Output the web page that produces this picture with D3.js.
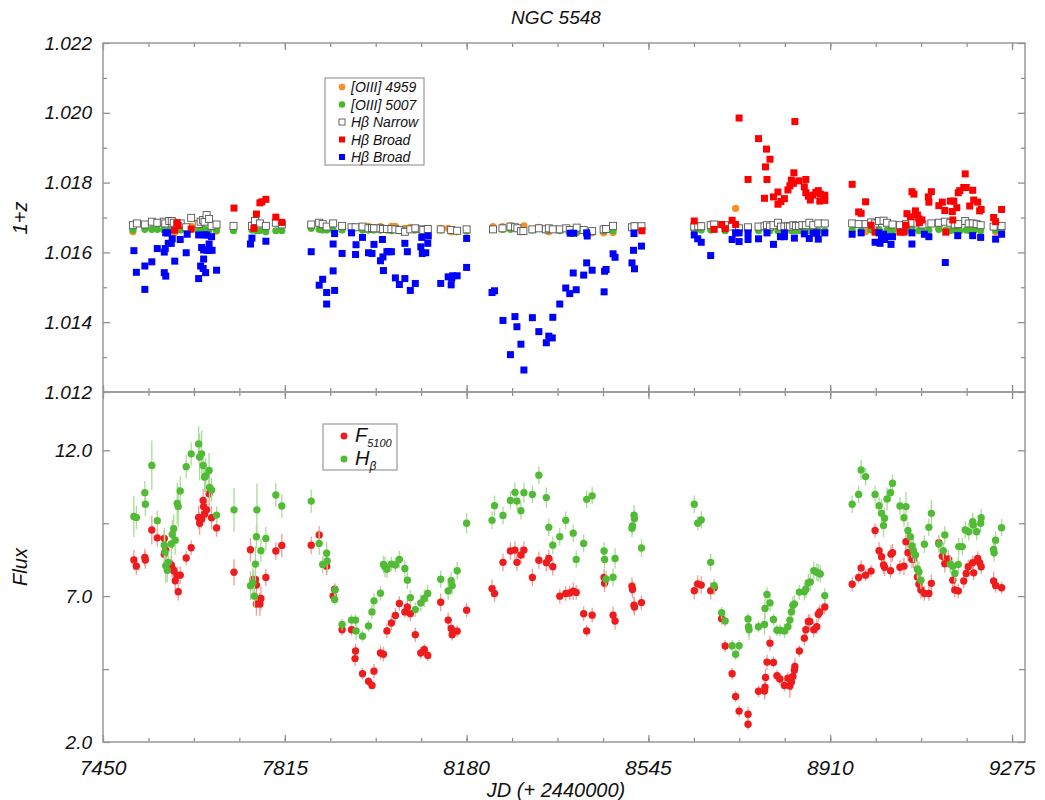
<!DOCTYPE html>
<html lang="en">
<head>
<meta charset="UTF-8">
<title>NGC 5548</title>
<script src="https://d3js.org/d3.v7.min.js"></script>
<style>
    body { margin: 0; background: #fff; }
    text { font-family: "Liberation Sans", Arial, sans-serif; font-style: italic; fill: #111; }
    .tick line { stroke: #888; }
</style>
</head>
<body>
<script>
// ---- data: [JD - 2440000, 1+z] ----
var oiii4959 = [[7510,1.01659],[7594,1.01657],[7627,1.01675],[7678,1.01661],[7749,1.0168],
    [7983,1.01675],[8007,1.01674],[8029,1.01675],[8037,1.01675],[8056,1.01669],[8067,1.01672],
    [8128,1.01669],[8143,1.01669],[8149,1.01659],[8160,1.01659],
    [8233,1.01674],[8252,1.01674],[8268,1.01676],[8295,1.01676],[8325,1.01672],[8345,1.01659],
    [8387,1.01656],[8401,1.01656],[8432,1.01656],[8455,1.01656],[8474,1.01657],[8516,1.01677],
    [8531,1.01662],[8637,1.01669],[8670,1.01681],[8720,1.01726],[8783,1.01678],[8818,1.01659],
    [8861,1.01659],[8899,1.01659],[8981,1.01659],[9128,1.01669],[9242,1.01659],[9254,1.01664]];

var oiii5007 = [[7510,1.01664],[7534,1.01666],[7548,1.01666],[7559,1.01666],[7572,1.01664],
    [7583,1.01664],[7591,1.01662],[7599,1.01666],[7606,1.01664],[7617,1.01667],[7627,1.01666],
    [7642,1.01664],[7648,1.01666],[7654,1.01666],[7663,1.01664],[7678,1.01664],[7712,1.01662],
    [7749,1.01664],[7758,1.01662],[7765,1.01662],[7777,1.01659],[7797,1.01662],[7809,1.01662],
    [7868,1.01669],[7884,1.01666],[7891,1.01664],[7899,1.01664],[7912,1.01664],[7930,1.01664],
    [7949,1.01664],[7971,1.01664],[7983,1.01664],[7994,1.01664],[8007,1.01664],[8020,1.01664],
    [8029,1.01662],[8045,1.01662],[8056,1.01662],[8077,1.01664],[8093,1.01662],[8102,1.01664],
    [8128,1.01664],[8149,1.01664],[8161,1.01662],[8180,1.01661],
    [8233,1.01666],[8252,1.01666],[8268,1.01666],[8289,1.01661],[8312,1.01664],[8339,1.01664],
    [8367,1.01662],[8387,1.01664],[8401,1.01659],[8432,1.01659],[8455,1.01662],[8474,1.01662],
    [8516,1.01666],[8531,1.01664],
    [8637,1.01664],[8651,1.01664],[8670,1.01664],[8699,1.01662],[8720,1.01664],[8745,1.01662],
    [8766,1.01662],[8783,1.01664],[8789,1.01662],[8805,1.01662],[8818,1.01662],[8832,1.01662],
    [8841,1.01662],[8847,1.01662],[8854,1.01662],[8861,1.01662],[8868,1.01662],[8876,1.01662],
    [8886,1.01662],[8899,1.01662],
    [8954,1.01664],[8972,1.01662],[8992,1.01664],[9008,1.01666],[9024,1.01664],[9035,1.01662],
    [9050,1.01662],[9062,1.01662],[9074,1.01666],[9088,1.01662],[9095,1.01662],[9108,1.01664],
    [9128,1.01666],[9142,1.01664],[9151,1.01662],[9160,1.01664],[9170,1.01662],[9183,1.01664],
    [9190,1.01662],[9199,1.01664],[9212,1.01662],[9242,1.01664],[9254,1.01664]];

var hbNarrow = [[7510,1.01678],[7518,1.01683],[7534,1.0168],[7548,1.01688],[7559,1.01685],
    [7572,1.01688],[7575,1.01683],[7583,1.0169],[7588,1.0169],[7592,1.01685],[7599,1.0168],
    [7606,1.01683],[7617,1.01672],[7627,1.01699],[7642,1.01681],[7646,1.01688],[7651,1.01693],
    [7654,1.01688],[7658,1.01707],[7663,1.01696],[7668,1.01676],[7678,1.0168],[7712,1.01676],
    [7749,1.01676],[7755,1.0169],[7765,1.01683],[7777,1.01676],[7797,1.01685],[7809,1.0168],
    [7868,1.0168],[7884,1.01685],[7891,1.01681],[7899,1.01674],[7912,1.01683],[7930,1.01676],
    [7949,1.01672],[7957,1.01672],[7971,1.01674],[7983,1.01669],[7990,1.0167],[7994,1.01669],
    [8007,1.01669],[8012,1.01667],[8020,1.01667],[8029,1.01667],[8037,1.01666],[8045,1.01664],
    [8056,1.01659],[8067,1.01666],[8077,1.01669],[8090,1.01666],[8093,1.01664],[8102,1.01667],
    [8128,1.01666],[8149,1.01664],[8161,1.01662],[8180,1.01666],
    [8233,1.01666],[8252,1.01669],[8268,1.01674],[8277,1.01672],[8282,1.01669],[8289,1.01661],
    [8294,1.01661],[8312,1.01666],[8325,1.01669],[8339,1.01666],[8345,1.01669],[8353,1.01666],
    [8367,1.01666],[8380,1.01669],[8387,1.01664],[8401,1.01671],[8415,1.01664],[8432,1.01661],
    [8455,1.01666],[8460,1.01667],[8474,1.01676],[8512,1.01672],[8517,1.01675],[8531,1.01675],
    [8637,1.01674],[8645,1.01675],[8651,1.01675],[8670,1.01678],[8677,1.0168],[8699,1.01678],
    [8713,1.01674],[8727,1.01669],[8745,1.01672],[8766,1.01674],[8778,1.01675],[8783,1.01678],
    [8789,1.01674],[8796,1.01678],[8805,1.01685],[8811,1.01674],[8818,1.01674],[8825,1.01675],
    [8829,1.01674],[8836,1.01678],[8841,1.01676],[8847,1.01676],[8854,1.01678],[8861,1.01678],
    [8868,1.01685],[8876,1.01678],[8886,1.01683],[8899,1.01683],
    [8954,1.01683],[8967,1.01681],[8981,1.01681],[8992,1.01686],[9000,1.01683],[9008,1.0169],
    [9017,1.01691],[9024,1.01685],[9035,1.0168],[9050,1.01678],[9062,1.01681],[9074,1.01685],
    [9085,1.01683],[9095,1.0168],[9113,1.01683],[9128,1.01685],[9140,1.01688],[9151,1.01685],
    [9160,1.0168],[9167,1.01681],[9181,1.0169],[9188,1.01683],[9196,1.01683],[9204,1.01681],
    [9212,1.01678],[9238,1.01674],[9254,1.01676]];

var hbBroadRed = [[7594,1.01664],[7599,1.01685],[7601,1.01677],[7627,1.01667],[7713,1.01727],
    [7753,1.01669],[7758,1.0171],[7765,1.01742],[7769,1.01745],[7777,1.01752],[7797,1.01701],
    [7809,1.01686],
    [8532,1.01662],[8637,1.0169],[8677,1.01666],[8692,1.0168],[8699,1.01668],[8713,1.01692],
    [8720,1.0168],[8727,1.01985],[8745,1.01809],[8766,1.01926],[8780,1.01845],[8782,1.01896],
    [8783,1.01809],[8789,1.01867],[8778,1.01755],[8796,1.01759],[8805,1.01773],[8805,1.01738],
    [8811,1.01746],[8818,1.01754],[8825,1.01779],[8829,1.01791],[8832,1.01807],[8837,1.01828],
    [8839,1.01975],[8836,1.01798],[8847,1.01805],[8861,1.01809],[8858,1.01788],[8861,1.01771],
    [8866,1.01761],[8870,1.0175],[8875,1.01764],[8881,1.01772],[8886,1.01777],[8890,1.01767],
    [8889,1.01747],[8899,1.01764],[8899,1.01749],
    [8954,1.01795],[8967,1.01716],[8972,1.01712],[8981,1.01745],[8992,1.01678],[9000,1.01658],
    [9050,1.01658],[9058,1.01658],[9062,1.01678],[9064,1.01711],[9071,1.01702],[9074,1.01774],
    [9078,1.01767],[9081,1.01719],[9085,1.01707],[9088,1.01696],[9089,1.01685],[9094,1.01693],
    [9107,1.01759],[9108,1.01744],[9113,1.01774],[9128,1.01734],[9135,1.01744],[9140,1.0172],
    [9142,1.01658],[9151,1.01747],[9155,1.01717],[9158,1.01747],[9156,1.01693],[9164,1.01728],
    [9167,1.01771],[9170,1.01777],[9178,1.01786],[9183,1.01786],[9181,1.01825],[9190,1.01733],
    [9196,1.01778],[9198,1.0175],[9206,1.01744],[9210,1.01719],[9213,1.01723],[9238,1.017],
    [9242,1.01688],[9254,1.01723]];

var hbBroadBlue = [[7512,1.01605],[7517,1.01543],[7534,1.01494],[7534,1.01561],[7548,1.01573],
    [7559,1.01611],[7573,1.01542],[7576,1.01532],[7573,1.01601],[7575,1.01611],[7580,1.01656],
    [7576,1.01656],[7581,1.01626],[7587,1.01626],[7589,1.01639],[7594,1.01575],[7605,1.01637],
    [7617,1.01599],[7619,1.01652],[7642,1.01525],[7642,1.0165],[7648,1.01614],[7646,1.01561],
    [7651,1.01554],[7652,1.01581],[7652,1.01607],[7654,1.0165],[7656,1.01542],[7658,1.0165],
    [7659,1.01606],[7663,1.01624],[7664,1.01606],[7668,1.01645],[7669,1.01606],[7678,1.01549],
    [7746,1.01624],[7749,1.01641],[7777,1.01632],
    [7868,1.01602],[7884,1.01506],[7891,1.01523],[7899,1.01485],[7899,1.01452],[7912,1.01547],
    [7915,1.01491],[7912,1.01624],[7915,1.01654],[7930,1.01597],[7949,1.01656],[7957,1.01594],
    [7958,1.01622],[7971,1.01643],[7983,1.01599],[7990,1.01597],[7994,1.01623],[8007,1.01576],
    [8011,1.01637],[8012,1.01587],[8013,1.01548],[8020,1.01602],[8024,1.01602],[8029,1.01602],
    [8037,1.01527],[8045,1.01508],[8056,1.01525],[8056,1.01626],[8061,1.01602],[8067,1.01491],
    [8077,1.01511],[8090,1.01643],[8088,1.01616],[8091,1.01597],[8098,1.01599],[8102,1.01626],
    [8103,1.01647],[8128,1.01511],[8143,1.0153],[8149,1.01507],[8150,1.01526],[8152,1.01533],
    [8161,1.01533],[8180,1.01557],[8180,1.0164],
    [8231,1.01485],[8236,1.0149],[8253,1.01405],[8268,1.01307],[8277,1.01416],[8281,1.01387],
    [8289,1.01337],[8295,1.01263],[8312,1.01413],[8325,1.01373],[8340,1.01341],[8345,1.0136],
    [8352,1.01355],[8353,1.01414],[8367,1.01452],[8379,1.01498],[8387,1.01482],[8394,1.01541],
    [8400,1.01493],[8388,1.01655],[8395,1.01655],[8415,1.01535],[8421,1.0157],[8421,1.01656],
    [8422,1.01647],[8432,1.01549],[8456,1.01487],[8457,1.01546],[8460,1.01551],[8474,1.01596],
    [8478,1.01586],[8512,1.0157],[8515,1.01606],[8517,1.01553],[8516,1.01654],[8531,1.01618],
    [8637,1.0165],[8644,1.01639],[8651,1.01629],[8670,1.01591],[8720,1.01656],[8713,1.01637],
    [8727,1.01631],[8727,1.01656],[8745,1.01656],[8745,1.01637],[8766,1.01639],[8783,1.01656],
    [8796,1.01623],[8810,1.01645],[8818,1.01645],[8818,1.01656],[8838,1.01641],[8858,1.01653],
    [8868,1.0164],[8876,1.01655],[8886,1.01638],[8883,1.01656],[8899,1.01656],
    [8954,1.01652],[8972,1.01656],[9000,1.01629],[9008,1.01656],[9010,1.01626],[9013,1.01645],
    [9017,1.01652],[9019,1.01637],[9024,1.01645],[9032,1.01623],[9035,1.01645],[9074,1.01624],
    [9074,1.01656],[9099,1.01652],[9108,1.01645],[9141,1.01571],[9166,1.01648],[9196,1.01648],
    [9212,1.01643],[9242,1.01638],[9254,1.01652]];

// ---- data: [JD - 2440000, flux, error] ----
var f5100 = [[7512,8.24,0.35],[7517,8.03,0.3],[7534,8.33,0.3],[7535,8.24,0.3],[7548,9.27,0.5],
    [7559,9.0,0.3],[7573,8.98,0.3],[7573,8.44,0.35],[7576,8.58,0.3],[7587,8.07,0.3],[7589,7.95,0.3],
    [7592,7.87,0.3],[7595,7.53,0.3],[7599,7.72,0.3],[7601,7.15,0.3],[7605,7.72,0.3],[7617,8.31,0.25],
    [7627,8.66,0.25],[7642,9.7,0.4],[7644,9.5,0.4],[7648,9.65,0.3],[7651,10.28,0.4],[7652,10.07,0.3],
    [7654,9.82,0.3],[7658,9.96,0.3],[7663,10.51,0.5],[7668,9.69,0.4],[7678,9.34,0.3],[7713,7.82,0.45],
    [7746,8.59,0.4],[7751,7.57,0.3],[7756,7.57,0.3],[7758,7.38,0.3],[7758,6.73,0.4],[7765,6.73,0.4],
    [7767,6.92,0.4],[7777,7.64,0.3],[7797,8.55,0.3],[7809,8.74,0.4],[7868,8.75,0.3],[7884,9.1,0.3],
    [7899,8.03,0.3],[7912,7.01,0.2],[7915,7.24,0.2],[7930,5.85,0.2],[7949,5.85,0.2],[7957,5.12,0.25],
    [7956,4.86,0.25],[7971,4.34,0.2],[7983,4.08,0.15],[7990,3.94,0.15],[7994,4.43,0.25],[8007,5.05,0.25],
    [8013,5.01,0.25],[8020,5.81,0.25],[8029,6.08,0.25],[8037,6.34,0.25],[8045,6.75,0.25],[8056,6.46,0.2],
    [8061,6.63,0.25],[8067,6.4,0.25],[8077,5.68,0.25],[8088,5.05,0.2],[8095,5.17,0.2],[8102,4.97,0.2],
    [8128,6.79,0.3],[8143,6.18,0.25],[8149,5.89,0.2],[8151,5.68,0.2],[8161,5.8,0.2],[8180,6.52,0.25],
    [8231,7.26,0.3],[8236,7.09,0.3],[8253,8.16,0.3],[8268,8.55,0.3],[8277,8.58,0.3],[8281,8.16,0.3],
    [8289,8.41,0.3],[8295,8.58,0.3],[8312,7.64,0.3],[8325,8.23,0.3],[8340,8.15,0.3],[8345,8.29,0.3],
    [8353,8.01,0.3],[8367,7.0,0.25],[8379,7.09,0.25],[8387,7.11,0.25],[8394,7.17,0.3],[8400,7.13,0.25],
    [8415,6.4,0.25],[8421,5.81,0.2],[8432,6.35,0.25],[8456,7.64,0.3],[8457,7.44,0.3],[8474,6.35,0.3],
    [8478,6.15,0.3],[8512,7.34,0.3],[8513,7.23,0.3],[8516,6.69,0.3],[8517,6.63,0.3],[8531,6.78,0.25],
    [8637,7.19,0.3],[8644,7.42,0.3],[8651,7.38,0.3],[8670,7.19,0.3],[8677,7.29,0.25],[8692,6.23,0.2],
    [8699,5.29,0.2],[8713,4.34,0.2],[8720,3.56,0.2],[8727,3.06,0.2],[8745,2.95,0.25],[8745,2.61,0.2],
    [8766,3.74,0.2],[8778,3.75,0.3],[8779,3.88,0.35],[8780,4.21,0.3],[8783,4.74,0.25],[8789,5.39,0.25],
    [8796,4.73,0.2],[8803,4.27,0.2],[8809,4.16,0.2],[8818,3.94,0.2],[8825,4.19,0.2],[8829,3.92,0.4],
    [8832,4.06,0.3],[8835,4.25,0.3],[8838,4.46,0.3],[8839,4.59,0.3],[8848,5.12,0.2],[8858,5.56,0.25],
    [8861,5.85,0.25],[8866,6.13,0.25],[8869,6.13,0.25],[8877,5.85,0.25],[8883,5.95,0.25],[8886,6.38,0.25],
    [8889,6.46,0.25],[8899,6.63,0.25],
    [8954,7.41,0.25],[8967,7.64,0.2],[8972,7.97,0.25],[8981,7.72,0.2],[8992,7.86,0.2],[9000,9.25,0.25],
    [9008,8.56,0.3],[9013,8.35,0.3],[9017,8.07,0.3],[9019,7.99,0.3],[9031,7.87,0.25],[9032,8.44,0.3],
    [9035,8.49,0.3],[9050,7.99,0.25],[9058,8.03,0.3],[9062,8.87,0.3],[9066,8.49,0.3],[9074,8.27,0.3],
    [9077,8.26,0.3],[9085,7.66,0.3],[9088,7.41,0.3],[9092,7.21,0.3],[9099,7.09,0.25],[9108,7.09,0.25],
    [9113,7.44,0.3],[9128,8.83,0.25],[9135,8.37,0.3],[9140,8.11,0.3],[9147,8.28,0.3],[9156,7.55,0.25],
    [9160,7.21,0.25],[9167,7.18,0.25],[9178,7.52,0.25],[9183,7.78,0.25],[9187,8.01,0.25],[9196,8.15,0.25],
    [9198,7.8,0.25],[9206,8.29,0.25],[9210,8.15,0.25],[9213,8.01,0.25],[9238,7.52,0.3],[9242,7.37,0.25],
    [9254,7.29,0.2]];

var hbFlux = [[7512,9.73,0.7],[7517,9.7,0.4],[7534,10.55,0.4],[7535,10.15,0.4],[7548,11.48,0.85],
    [7559,9.59,0.35],[7573,8.75,0.6],[7574,8.52,0.6],[7576,8.04,0.6],[7579,7.89,0.4],[7581,8.16,0.4],
    [7587,8.79,0.5],[7589,9.12,0.5],[7592,9.31,0.5],[7595,8.92,0.5],[7599,10.18,0.7],[7601,10.07,0.7],
    [7605,10.61,0.5],[7617,11.44,0.4],[7627,11.88,0.4],[7642,12.22,0.6],[7644,11.77,0.8],[7648,11.88,0.8],
    [7651,11.48,0.5],[7654,11.08,0.5],[7656,11.12,0.6],[7663,11.31,0.6],[7664,10.73,0.5],[7668,10.64,0.4],
    [7678,9.78,0.3],[7713,9.96,0.75],[7746,7.36,0.5],[7751,7.46,0.5],[7754,7.0,0.4],[7756,8.1,0.6],
    [7758,9.04,0.4],[7759,9.96,0.9],[7767,8.56,0.4],[7777,8.98,0.4],[7797,10.47,0.4],[7809,10.09,0.4],
    [7868,10.26,0.4],[7884,8.81,0.4],[7891,8.09,0.3],[7899,8.47,0.4],[7900,8.21,0.4],[7915,6.89,0.2],
    [7916,7.21,0.2],[7930,6.03,0.2],[7949,6.18,0.2],[7957,6.18,0.2],[7958,5.81,0.3],[7971,5.63,0.2],
    [7983,5.98,0.2],[7990,6.46,0.25],[7994,6.84,0.25],[8007,7.1,0.25],[8013,8.09,0.3],[8016,8.01,0.35],
    [8020,7.92,0.3],[8029,8.1,0.25],[8037,8.07,0.25],[8045,8.26,0.3],[8056,7.95,0.3],[8061,7.55,0.3],
    [8067,6.95,0.25],[8077,6.54,0.25],[8088,6.77,0.3],[8095,6.92,0.3],[8102,7.09,0.3],[8128,7.58,0.3],
    [8143,7.18,0.3],[8149,7.53,0.3],[8151,7.36,0.3],[8161,7.87,0.3],[8180,9.5,0.35],
    [8231,9.6,0.3],[8236,10.1,0.35],[8253,9.77,0.3],[8268,10.28,0.3],[8277,10.56,0.35],[8281,10.26,0.3],
    [8289,9.93,0.3],[8295,10.55,0.35],[8312,10.49,0.3],[8325,11.15,0.3],[8340,10.38,0.35],[8345,9.36,0.3],
    [8353,8.75,0.3],[8367,9.04,0.3],[8379,9.6,0.3],[8394,9.16,0.3],[8400,8.26,0.3],[8415,8.81,0.3],
    [8421,10.32,0.3],[8432,10.44,0.3],[8456,8.55,0.3],[8457,8.26,0.3],[8460,7.58,0.3],[8474,7.65,0.3],
    [8478,8.29,0.35],[8512,9.33,0.3],[8513,9.41,0.3],[8516,9.78,0.35],[8517,9.66,0.3],[8531,8.65,0.3],
    [8637,10.15,0.3],[8644,9.5,0.25],[8651,9.61,0.3],[8670,8.16,0.3],[8677,7.36,0.25],[8692,6.43,0.2],
    [8699,6.15,0.2],[8713,5.3,0.2],[8720,5.01,0.2],[8727,5.3,0.2],[8745,6.22,0.2],[8746,5.95,0.35],
    [8747,5.85,0.35],[8766,5.95,0.2],[8778,6.03,0.35],[8779,6.58,0.35],[8783,7.06,0.25],[8789,6.77,0.3],
    [8796,6.2,0.2],[8803,5.83,0.2],[8809,5.83,0.2],[8818,5.81,0.25],[8825,5.95,0.25],[8829,6.18,0.3],
    [8832,6.46,0.3],[8835,6.69,0.3],[8838,6.73,0.3],[8848,7.14,0.25],[8858,7.15,0.3],[8861,7.24,0.3],
    [8866,7.46,0.3],[8870,7.49,0.3],[8877,7.87,0.3],[8883,7.82,0.3],[8886,7.8,0.3],[8890,7.76,0.3],
    [8899,7.02,0.25],
    [8954,10.15,0.3],[8967,10.49,0.3],[8972,11.33,0.35],[8981,11.1,0.3],[9000,10.49,0.3],[9008,10.1,0.3],
    [9013,9.84,0.5],[9017,9.42,0.4],[9019,9.67,0.35],[9024,10.33,0.4],[9031,10.55,0.3],[9035,10.87,0.3],
    [9050,10.09,0.3],[9058,9.69,0.3],[9062,10.07,0.5],[9066,9.25,0.3],[9071,9.04,0.3],[9074,8.72,0.4],
    [9077,8.56,0.4],[9081,8.41,0.4],[9085,7.93,0.35],[9088,7.84,0.35],[9092,7.55,0.3],[9099,8.78,0.3],
    [9108,9.36,0.3],[9113,9.84,0.45],[9128,8.79,0.3],[9137,8.56,0.3],[9140,9.1,0.3],[9151,8.1,0.3],
    [9156,8.03,0.3],[9160,7.78,0.3],[9167,8.09,0.3],[9168,8.7,0.3],[9175,8.7,0.3],[9181,9.27,0.3],
    [9188,9.21,0.3],[9196,9.55,0.3],[9197,9.44,0.3],[9204,9.21,0.3],[9212,9.5,0.3],[9213,9.69,0.3],
    [9238,8.6,0.3],[9239,8.49,0.3],[9242,8.92,0.3],[9254,9.35,0.3]];

// ---- ticks ----
var jdTicks = [7450, 7815, 8180, 8545, 8910, 9275];
var jdMinor = d3.range(7450, 9301, 91.25);
var zTicks = [1.012, 1.014, 1.016, 1.018, 1.020, 1.022];
var zMinor = d3.range(1.013, 1.0225, 0.002);
var fluxTicks = [2, 7, 12];
var fluxMinor = [4.5, 9.5];

// ---- layout ----
var width = 1045, height = 800;
var left = 103, right = 1025, top1 = 43, mid = 392, bottom = 742;

var col = {
    orange: "#f7901e", green: "#4cb830", red: "#ff0000", blue: "#0000ff",
    fRed: "#ee1c1c", fGreen: "#52bb36", eRed: "#f39a9a", eGreen: "#a9dc98"
};

var svg = d3.select("body").append("svg")
    .attr("width", width)
    .attr("height", height);

var x = d3.scaleLinear().domain([7450, 9301]).range([left, right]);
var yZ = d3.scaleLinear().domain([1.012, 1.022]).range([mid, top1]);
var yF = d3.scaleLinear().domain([2, 14]).range([bottom, mid]);

// axes helper: draws ticks (no domain line)
function drawAxis(axis, tx, ty) {
    var g = svg.append("g")
        .attr("transform", "translate(" + tx + "," + ty + ")")
        .call(axis);
    g.select(".domain").remove();
    g.selectAll(".tick line").attr("stroke", "#888").attr("stroke-width", 1.2);
    return g;
}

// x ticks on all horizontal edges, pointing inward
[top1, mid].forEach(function (yy) {
    drawAxis(d3.axisTop(x).tickValues(jdTicks).tickSize(-7).tickFormat(""), 0, yy);
    drawAxis(d3.axisTop(x).tickValues(jdMinor).tickSize(-4).tickFormat(""), 0, yy);
});
[mid, bottom].forEach(function (yy) {
    drawAxis(d3.axisBottom(x).tickValues(jdTicks).tickSize(-7).tickFormat(""), 0, yy);
    drawAxis(d3.axisBottom(x).tickValues(jdMinor).tickSize(-4).tickFormat(""), 0, yy);
});

// y ticks
drawAxis(d3.axisLeft(yZ).tickValues(zTicks).tickSize(-7).tickPadding(11)
    .tickFormat(d3.format(".3f")), left, 0)
    .selectAll("text").style("font-size", "19px").attr("fill", "#111");
drawAxis(d3.axisLeft(yZ).tickValues(zMinor).tickSize(-4).tickFormat(""), left, 0);
drawAxis(d3.axisRight(yZ).tickValues(zTicks).tickSize(-7).tickFormat(""), right, 0);
drawAxis(d3.axisRight(yZ).tickValues(zMinor).tickSize(-4).tickFormat(""), right, 0);

drawAxis(d3.axisLeft(yF).tickValues(fluxTicks).tickSize(-7).tickPadding(11)
    .tickFormat(d3.format(".1f")), left, 0)
    .selectAll("text").style("font-size", "19px").attr("fill", "#111");
drawAxis(d3.axisLeft(yF).tickValues(fluxMinor).tickSize(-6).tickFormat(""), left, 0);
drawAxis(d3.axisRight(yF).tickValues(fluxTicks).tickSize(-7).tickFormat(""), right, 0);
drawAxis(d3.axisRight(yF).tickValues(fluxMinor).tickSize(-6).tickFormat(""), right, 0);

// x labels under bottom panel
svg.append("g").selectAll("text")
    .data(jdTicks)
    .enter().append("text")
    .attr("x", function (d) { return x(d); })
    .attr("y", 775)
    .attr("text-anchor", "middle")
    .style("font-size", "21px")
    .text(function (d) { return d; });

// frames
svg.append("rect").attr("x", left).attr("y", top1)
    .attr("width", right - left).attr("height", mid - top1)
    .attr("fill", "none").attr("stroke", "#999").attr("stroke-width", 1.5);
svg.append("rect").attr("x", left).attr("y", mid)
    .attr("width", right - left).attr("height", bottom - mid)
    .attr("fill", "none").attr("stroke", "#999").attr("stroke-width", 1.5);

// ---- top panel marks ----
var gTop = svg.append("g");

gTop.selectAll("circle.o4959")
    .data(oiii4959).enter().append("circle")
    .attr("cx", function (d) { return x(d[0]); })
    .attr("cy", function (d) { return yZ(d[1]); })
    .attr("r", 3.6).attr("fill", col.orange);

gTop.selectAll("circle.o5007")
    .data(oiii5007).enter().append("circle")
    .attr("cx", function (d) { return x(d[0]); })
    .attr("cy", function (d) { return yZ(d[1]); })
    .attr("r", 3.6).attr("fill", col.green);

gTop.selectAll("rect.narrow")
    .data(hbNarrow).enter().append("rect")
    .attr("x", function (d) { return x(d[0]) - 3.5; })
    .attr("y", function (d) { return yZ(d[1]) - 3.5; })
    .attr("width", 7).attr("height", 7)
    .attr("fill", "#fff").attr("stroke", "#555").attr("stroke-width", 0.9);

gTop.selectAll("rect.bred")
    .data(hbBroadRed).enter().append("rect")
    .attr("x", function (d) { return x(d[0]) - 3.5; })
    .attr("y", function (d) { return yZ(d[1]) - 3.5; })
    .attr("width", 7).attr("height", 7)
    .attr("fill", col.red);

gTop.selectAll("rect.bblue")
    .data(hbBroadBlue).enter().append("rect")
    .attr("x", function (d) { return x(d[0]) - 3.5; })
    .attr("y", function (d) { return yZ(d[1]) - 3.5; })
    .attr("width", 7).attr("height", 7)
    .attr("fill", col.blue);

// ---- bottom panel marks ----
function drawFlux(data, barColor, dotColor) {
    var g = svg.append("g");
    g.selectAll("line")
        .data(data).enter().append("line")
        .attr("x1", function (d) { return x(d[0]); })
        .attr("x2", function (d) { return x(d[0]); })
        .attr("y1", function (d) { return yF(d[1] - d[2]); })
        .attr("y2", function (d) { return yF(d[1] + d[2]); })
        .attr("stroke", barColor).attr("stroke-width", 1.3);
    g.selectAll("circle")
        .data(data).enter().append("circle")
        .attr("cx", function (d) { return x(d[0]); })
        .attr("cy", function (d) { return yF(d[1]); })
        .attr("r", 3.7).attr("fill", dotColor);
}
drawFlux(f5100, col.eRed, col.fRed);
drawFlux(hbFlux, col.eGreen, col.fGreen);

// ---- legends ----
var leg1 = svg.append("g");
leg1.append("rect").attr("x", 325).attr("y", 78).attr("width", 99).attr("height", 87)
    .attr("fill", "#fff").attr("stroke", "#999").attr("stroke-width", 1.2);
var legItems = [
    { label: "[OIII] 4959", kind: "circle", color: col.orange },
    { label: "[OIII] 5007", kind: "circle", color: col.green },
    { label: "H\u03b2 Narrow", kind: "open", color: "#555" },
    { label: "H\u03b2 Broad", kind: "square", color: col.red },
    { label: "H\u03b2 Broad", kind: "square", color: col.blue }
];
legItems.forEach(function (it, i) {
    var cy = 87 + i * 17.5;
    if (it.kind === "circle") {
        leg1.append("circle").attr("cx", 342).attr("cy", cy).attr("r", 3.3).attr("fill", it.color);
    } else if (it.kind === "open") {
        leg1.append("rect").attr("x", 339).attr("y", cy - 3).attr("width", 6).attr("height", 6)
            .attr("fill", "#fff").attr("stroke", it.color).attr("stroke-width", 0.9);
    } else {
        leg1.append("rect").attr("x", 339).attr("y", cy - 3).attr("width", 6).attr("height", 6)
            .attr("fill", it.color);
    }
    leg1.append("text").attr("x", 351).attr("y", cy + 5)
        .style("font-size", "14px").text(it.label);
});

var leg2 = svg.append("g");
leg2.append("rect").attr("x", 323).attr("y", 424).attr("width", 74).attr("height", 46)
    .attr("fill", "#fff").attr("stroke", "#999").attr("stroke-width", 1.2);
leg2.append("circle").attr("cx", 344).attr("cy", 436).attr("r", 3.5).attr("fill", col.fRed);
leg2.append("circle").attr("cx", 344).attr("cy", 459).attr("r", 3.5).attr("fill", col.fGreen);
var t1 = leg2.append("text").attr("x", 355).attr("y", 442).style("font-size", "20px");
t1.append("tspan").text("F");
t1.append("tspan").attr("dy", 5).style("font-size", "11px").text("5100");
var t2 = leg2.append("text").attr("x", 355).attr("y", 465).style("font-size", "20px");
t2.append("tspan").text("H");
t2.append("tspan").attr("dy", 5).style("font-size", "12px").text("\u03b2");

// ---- titles ----
svg.append("text").attr("x", 556).attr("y", 24).attr("text-anchor", "middle")
    .style("font-size", "19px").text("NGC 5548");
svg.append("text").attr("x", 556).attr("y", 797).attr("text-anchor", "middle")
    .style("font-size", "20px").text("JD (+ 2440000)");
svg.append("text").attr("transform", "translate(27,218) rotate(-90)")
    .attr("text-anchor", "middle").style("font-size", "20px").text("1+z");
svg.append("text").attr("transform", "translate(27,567) rotate(-90)")
    .attr("text-anchor", "middle").style("font-size", "20px").text("Flux");
</script>
</body>
</html>
